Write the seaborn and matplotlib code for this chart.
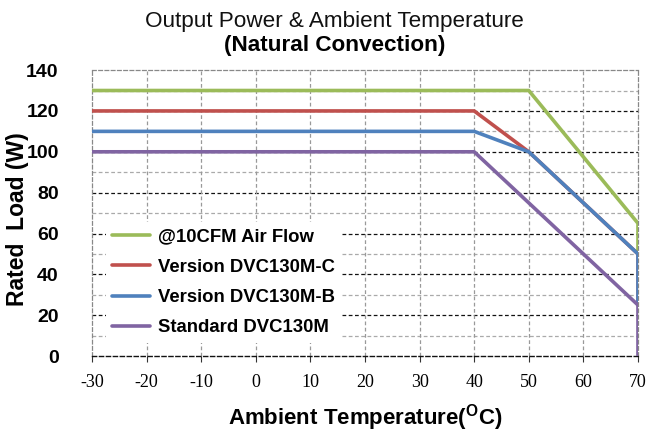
import numpy as np
import pandas as pd
import seaborn as sns
import matplotlib
matplotlib.use("Agg")
import matplotlib.pyplot as plt
from matplotlib.ticker import MultipleLocator

# ---- data ----
series_names = ["@10CFM Air Flow", "Version DVC130M-C", "Version DVC130M-B", "Standard DVC130M"]
green_x = [-30, 50, 70, 70]
green_y = [130, 130, 65, 50]
red_x = [-30, 40, 50, 70, 70]
red_y = [120, 120, 100, 50, 25]
blue_x = [-30, 40, 50, 70, 70]
blue_y = [110, 110, 100, 50, 25]
purple_x = [-30, 40, 70, 70]
purple_y = [100, 100, 25, 0]
x_ticks = [-30, -20, -10, 0, 10, 20, 30, 40, 50, 60, 70]
y_ticks = [0, 20, 40, 60, 80, 100, 120, 140]
colors = ["#9BBB59", "#C0504D", "#4F81BD", "#8064A2"]

frames = []
for name, xs, ys in zip(series_names, [green_x, red_x, blue_x, purple_x],
                        [green_y, red_y, blue_y, purple_y]):
    frames.append(pd.DataFrame({"T": xs, "P": ys, "series": name}))
df = pd.concat(frames, ignore_index=True)

sns.set_theme(style="white")
plt.rcParams["font.family"] = ["Liberation Sans", "DejaVu Sans"]
plt.rcParams["mathtext.fontset"] = "custom"
plt.rcParams["mathtext.rm"] = "Liberation Sans:bold"
plt.rcParams["mathtext.default"] = "regular"
plt.rcParams["axes.unicode_minus"] = False
plt.rcParams["text.color"] = "black"
plt.rcParams["xtick.color"] = "black"
plt.rcParams["ytick.color"] = "black"
plt.rcParams["axes.labelcolor"] = "black"

fig = plt.figure(figsize=(6.5, 4.38), dpi=100)
ax = fig.add_axes([0.1415, 0.187, 0.840, 0.653])

sns.lineplot(data=df, x="T", y="P", hue="series", hue_order=series_names,
             palette=colors, sort=False, estimator=None, units="series",
             linewidth=2.6, ax=ax, legend=True, zorder=3)

ax.set_xlim(-30, 70)
ax.set_ylim(0, 140)
ax.set_xticks(x_ticks)
ax.set_yticks(y_ticks)
ax.yaxis.set_minor_locator(MultipleLocator(10))

# grid
for v in range(10, 140, 10):
    if v % 20 == 0:
        ax.axhline(v, color="#111111", lw=0.9, ls=(0, (3, 2)), zorder=1)
    else:
        ax.axhline(v, color="#aaaaaa", lw=0.9, ls=(0, (3, 2)), zorder=1)
for v in x_ticks[1:-1]:
    ax.axvline(v, color="#999999", lw=0.9, ls=(0, (3, 2)), zorder=1)

for side in ["top", "right", "left"]:
    ax.spines[side].set_linestyle((0, (3, 2)))
    ax.spines[side].set_color("#888888")
    ax.spines[side].set_linewidth(0.9)
ax.spines["bottom"].set_linestyle((0, (3, 2)))
ax.spines["bottom"].set_color("#111111")
ax.spines["bottom"].set_linewidth(1.0)

ax.tick_params(axis="x", which="major", bottom=True, length=4, width=0.8,
               direction="out", color="#333333", pad=9)
ax.tick_params(axis="y", which="both", left=False, pad=18)
for lab in ax.get_xticklabels():
    lab.set_fontfamily("Liberation Serif")
    lab.set_fontsize(13)
for lab in ax.get_yticklabels():
    lab.set_fontweight("bold")
    lab.set_fontsize(14)

ax.set_xlabel("Ambient Temperature($^{O}$C)", fontsize=16, fontweight="bold", labelpad=8)
ax.set_ylabel("Rated  Load (W)", fontsize=16.5, fontweight="bold")
ax.yaxis.set_label_coords(-0.116, 0.48)

fig.text(0.515, 0.952, "Output Power & Ambient Temperature", ha="center", va="center",
         fontsize=16.2, color="#111111")
fig.text(0.515, 0.895, "(Natural Convection)", ha="center", va="center",
         fontsize=16.2, fontweight="bold", color="black")

leg = ax.legend(loc="lower left", bbox_to_anchor=(0.008, 0.014), frameon=True,
                facecolor="white", edgecolor="none", framealpha=1.0,
                prop={"weight": "bold", "size": 13.3}, handlelength=2.05,
                handletextpad=0.45, labelspacing=0.72, borderpad=0.35, fancybox=False)
leg.set_zorder(5)
for line in leg.get_lines():
    line.set_linewidth(2.6)

fig.savefig("out.png", dpi=100)
